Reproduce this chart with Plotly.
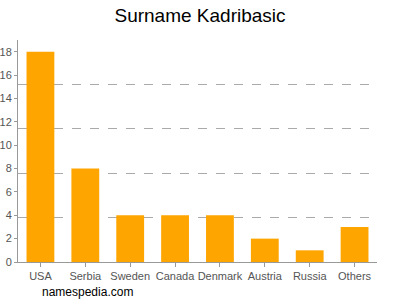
import plotly.graph_objects as go

categories = ["USA", "Serbia", "Sweden", "Canada", "Denmark", "Austria", "Russia", "Others"]
values = [18, 8, 4, 4, 4, 2, 1, 3]
y_ticks = [0, 2, 4, 6, 8, 10, 12, 14, 16, 18]
grid_vals = [3.8, 7.6, 11.4, 15.2, 18.98]

fig = go.Figure()
fig.add_trace(go.Bar(x=categories, y=values, marker=dict(color="#FFA500", line=dict(width=0)),
                     hoverinfo="skip"))
fig.add_trace(go.Scatter(x=categories, y=[None]*len(categories), yaxis="y2", showlegend=False,
                         hoverinfo="skip"))

fig.update_layout(
    width=400, height=300,
    margin=dict(l=18, r=23, t=40, b=38),
    paper_bgcolor="white", plot_bgcolor="white",
    showlegend=False,
    bargap=0.38,
    title=dict(text="Surname Kadribasic", x=0.5, xanchor="center", y=0.95, yanchor="middle",
               font=dict(family="Liberation Sans, Arial, sans-serif", size=19, color="#000")),
    font=dict(family="Liberation Sans, Arial, sans-serif", size=11, color="#555"),
    xaxis=dict(showline=True, linecolor="#999", linewidth=1, ticks="outside", ticklen=4,
               tickcolor="#999", showgrid=False, tickangle=0, automargin=False,
               tickfont=dict(size=11, color="#555")),
    yaxis=dict(range=[0, 19], tickvals=y_ticks, showgrid=False, showline=True, linecolor="#999",
               linewidth=1, ticks="outside", ticklen=3, tickcolor="#999", zeroline=False,
               automargin=False, tickfont=dict(size=11, color="#555")),
    yaxis2=dict(range=[0, 19], overlaying="y", side="right", tickvals=grid_vals,
                showticklabels=False, ticks="", showgrid=True, gridcolor="#aaa",
                griddash="dash", gridwidth=1, zeroline=False, showline=False, automargin=False),
    annotations=[dict(text="namespedia.com", xref="paper", yref="paper", x=0.06, y=-0.135,
                      xanchor="left", yanchor="middle", showarrow=False,
                      font=dict(size=12, color="#000"))],
)
fig.write_html("out.html", config={"displayModeBar": False},
               post_script="document.body.style.margin='0';document.body.style.overflow='hidden';")
